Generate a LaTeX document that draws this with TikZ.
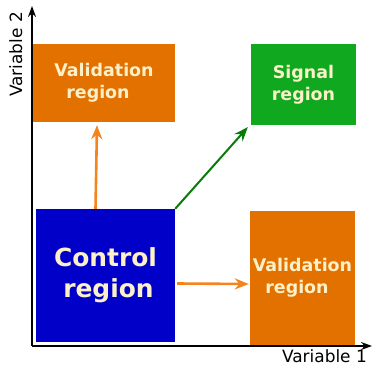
\documentclass[tikz,border=0pt]{standalone}
\usepackage{fontspec}
\setmainfont{DejaVu Sans}
\usetikzlibrary{arrows.meta}
\definecolor{valorange}{HTML}{E37100}
\definecolor{arroworange}{HTML}{F5841F}
\definecolor{sigreen}{HTML}{10A81E}
\definecolor{arrowgreen}{HTML}{0A7A0A}
\definecolor{ctrlblue}{HTML}{0000C8}
\definecolor{labelcream}{HTML}{FBF0C8}
\tikzset{
  region/.style={draw=none, inner sep=0pt, align=center, text=labelcream,
    font=\bfseries\fontsize{17.5}{22}\selectfont},
  axisline/.style={line width=1.5bp, -{Stealth[length=11bp,width=8bp]}},
  flow/.style={line width=2.6bp, -{Stealth[length=14bp,width=11bp]}},
  axislabel/.style={inner sep=0pt, font=\fontsize{17}{20}\selectfont}
}
\begin{document}
\begin{tikzpicture}[x=1bp,y=1bp]
  \useasboundingbox (0,0) rectangle (373,366);
  % axes
  \coordinate (origin) at (32,20);
  \coordinate (xend) at (372,20);
  \coordinate (yend) at (32,360);
  \draw[axisline] (origin) -- (xend);
  \draw[axisline] (origin) -- (yend);
  \node[axislabel, anchor=base east] (xlabel) at (367,4) {Variable 1};
  \node[axislabel, anchor=base east, rotate=90] (ylabel) at (22,354) {Variable 2};
  % regions
  \node[region, fill=valorange, minimum width=142bp, minimum height=78bp]
    (valtop) at (104,283) {Validation\\region\hspace*{12bp}};
  \node[region, fill=sigreen, minimum width=105bp, minimum height=81bp]
    (signal) at (303.5,281.5) {Signal\\region};
  \node[region, fill=ctrlblue, minimum width=139bp, minimum height=133bp,
    font=\bfseries\fontsize{25}{31}\selectfont]
    (control) at (105.5,90.5) {Control\\\hspace*{6bp}region};
  \node[region, fill=valorange, minimum width=105bp, minimum height=134bp]
    (valright) at (302.5,88) {Validation\\region\hspace*{11bp}};
  % connectors
  \draw[flow, arroworange] ([xshift=-10bp]control.north) -- ([xshift=-7bp,yshift=-3bp]valtop.south);
  \draw[flow, arrowgreen, line width=2bp] (control.north east) -- ([xshift=-3bp,yshift=-2bp]signal.south west);
  \draw[flow, arroworange] ([xshift=2bp,yshift=-8bp]control.east) -- ([xshift=-1bp,yshift=-6bp]valright.west);
\end{tikzpicture}
\end{document}
